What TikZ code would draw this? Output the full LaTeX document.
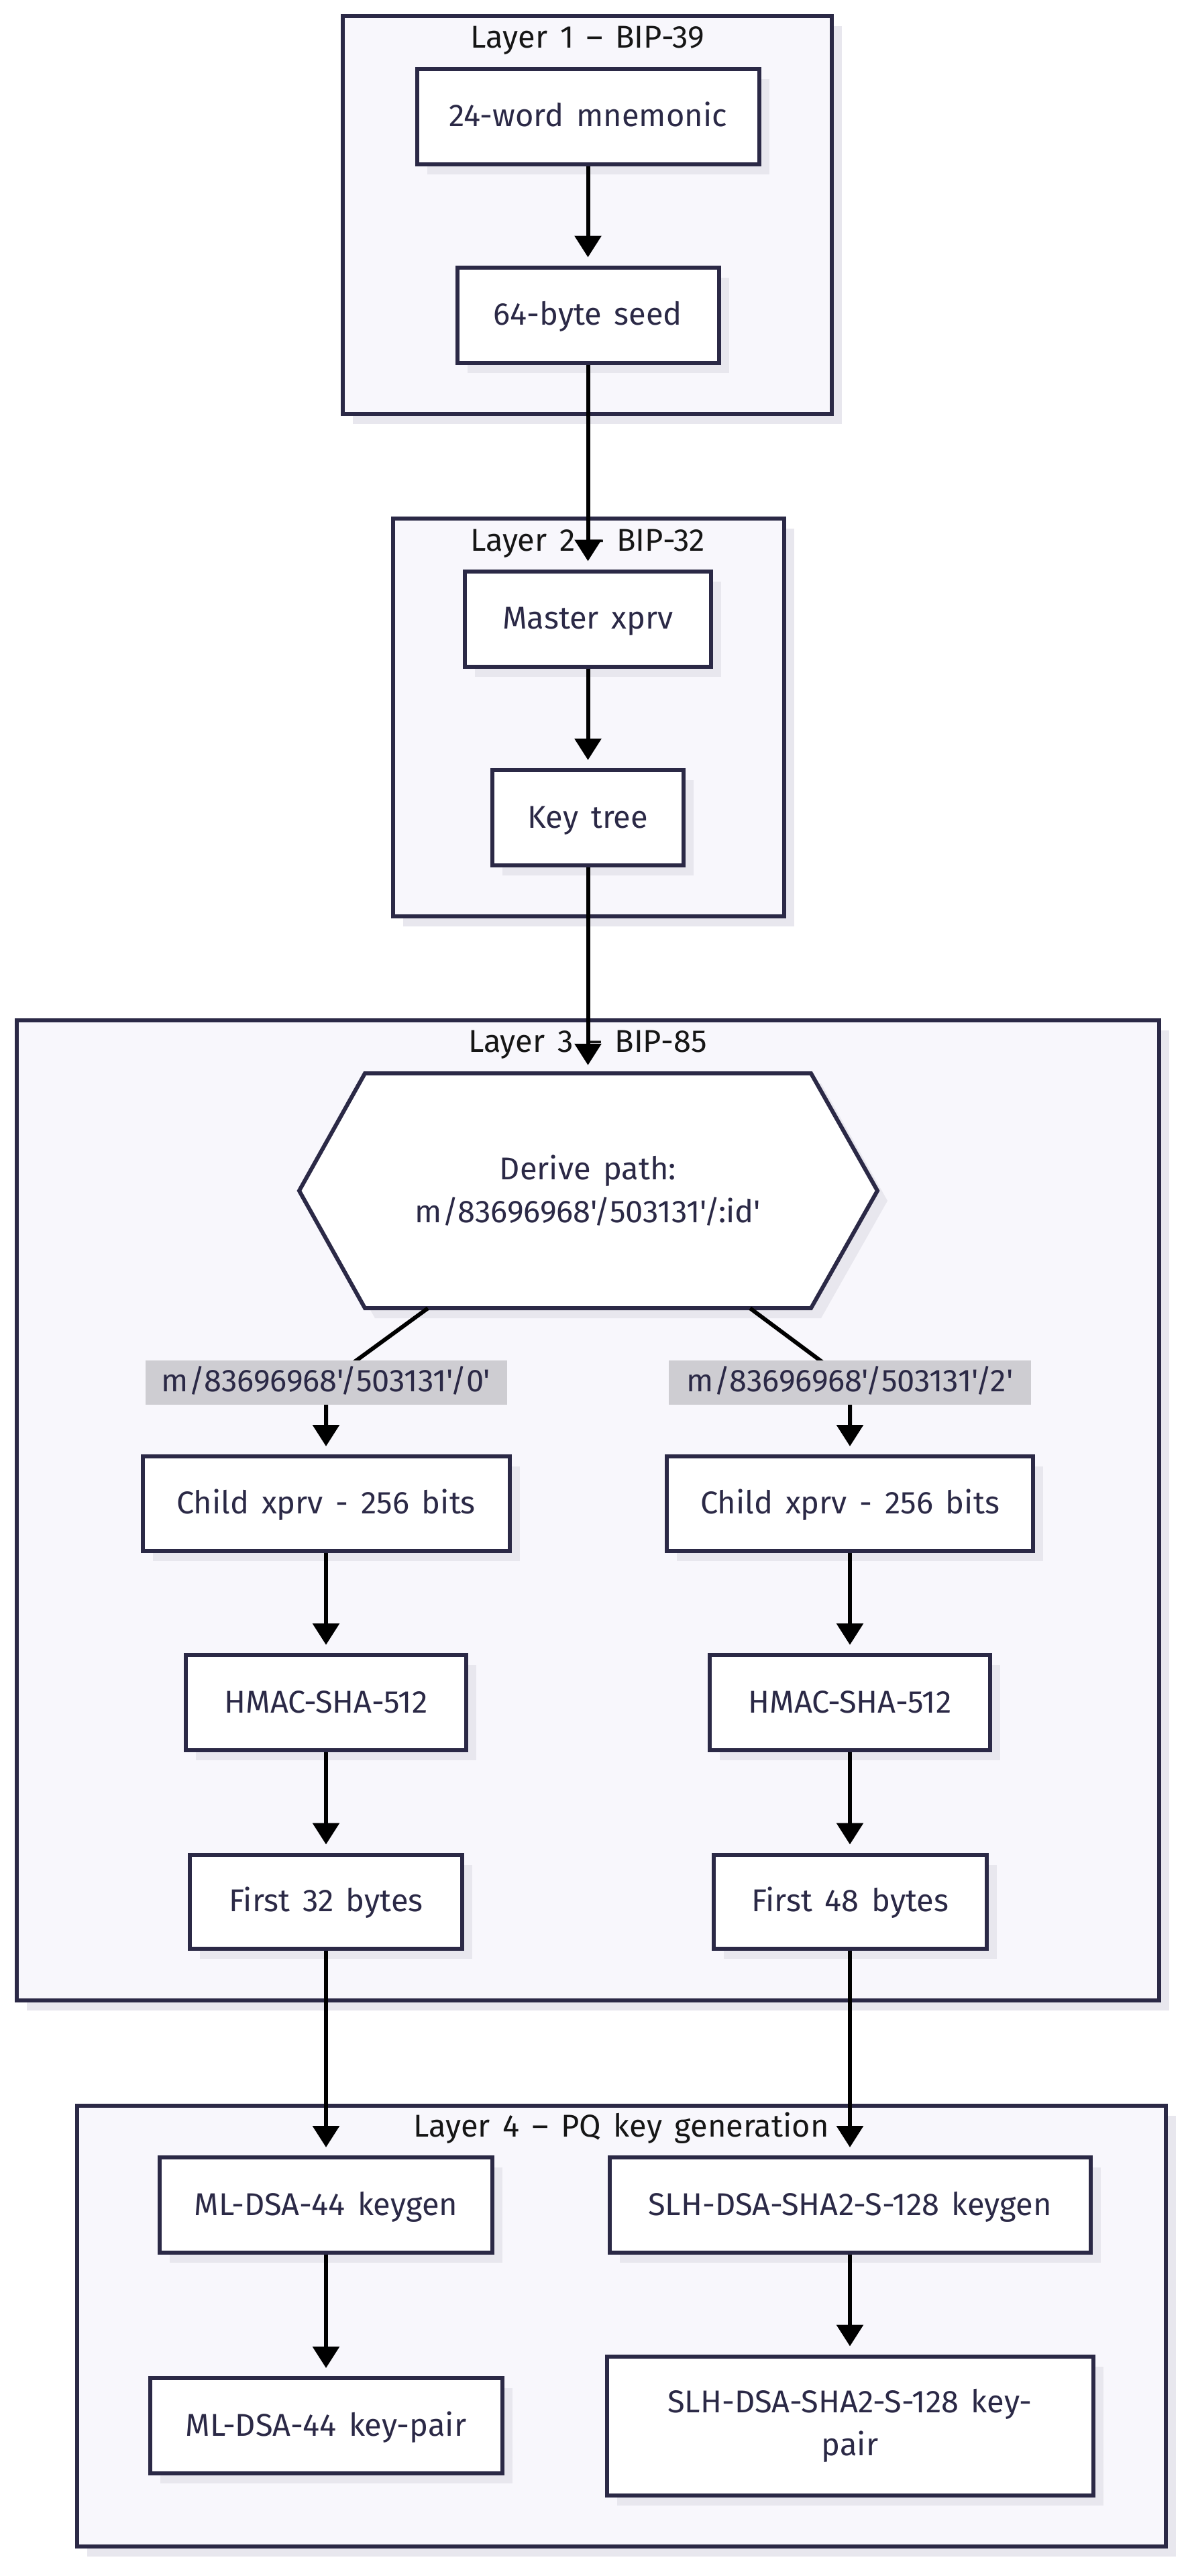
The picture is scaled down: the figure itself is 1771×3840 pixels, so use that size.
\documentclass[tikz,border=0pt]{standalone}
\usepackage{fontspec}
\setmainfont{Fira Sans}[Ligatures=TeXOff,WordSpace=1.5]
\usetikzlibrary{arrows.meta,shadows,calc}
\definecolor{navy}{HTML}{2B2946}
\definecolor{layerfill}{HTML}{F8F7FC}
\definecolor{shadowc}{HTML}{E8E7EE}
\definecolor{labelbg}{HTML}{CECDD2}
\definecolor{titlec}{HTML}{161616}
\newcommand\dfont{\fontsize{47}{64}\selectfont}
\begin{document}
\begin{tikzpicture}[x=1pt,y=-1pt,
 shadowed/.style={drop shadow={shadow xshift=15pt,shadow yshift=-15pt,fill=shadowc,opacity=1}},
 layerbox/.style={draw=navy,line width=6pt,fill=layerfill,shadowed,inner sep=0pt},
 titletext/.style={text=titlec,font=\dfont,inner sep=0pt,anchor=base},
 box/.style={draw=navy,line width=6pt,fill=white,shadowed,text=navy,font=\dfont,inner sep=0pt,minimum height=142pt,text height=38pt,text depth=8pt},
 boxtwo/.style={draw=navy,line width=6pt,fill=white,shadowed,text=navy,font=\dfont,inner sep=0pt,align=center},
 edgelab/.style={fill=labelbg,text=navy,font=\dfont,inner sep=0pt,minimum height=66pt,text height=34pt,text depth=8pt},
 arr/.style={draw=black,line width=6pt,-{Triangle[length=32pt,width=39pt]},shorten >=12pt},
]
\fill[white] (0,0) rectangle (1771,3840);
\useasboundingbox (0,0) rectangle (1771,3840);

% layers
\node[layerbox,minimum width=729pt,minimum height=592.5pt] (L1) at (875.5,320.75) {};
\node[titletext] (L1t) at (876,72) {Layer 1 – BIP-39};
\node[layerbox,minimum width=583pt,minimum height=593pt] (L2) at (877,1069.5) {};
\node[titletext] (L2t) at (876,821) {Layer 2 – BIP-32};
\node[layerbox,minimum width=1703pt,minimum height=1461pt] (L3) at (876.4,2251.5) {};
\node[titletext] (L3t) at (876,1568) {Layer 3 – BIP-85};
\node[layerbox,minimum width=1623pt,minimum height=657pt] (L4) at (926,3467.4) {};
\node[titletext] (L4t) at (926,3185) {Layer 4 – PQ key generation};

% layer 1
\node[box,minimum width=510pt] (mn) at (876.5,174) {24-word mnemonic};
\node[box,minimum width=390pt] (seed) at (876.5,469.5) {64-byte seed};
% layer 2
\node[box,minimum width=367pt] (master) at (876.5,922.5) {Master xprv};
\node[box,minimum width=285pt] (ktree) at (876.5,1219) {Key tree};
% layer 3
\fill[shadowc] (559,1615) -- (1224,1615) -- (1323,1790) -- (1224,1965) -- (559,1965) -- (461,1790) -- cycle;
\draw[navy,line width=6pt,fill=white,line join=miter] (544,1600) -- (1209,1600) -- (1308,1775) -- (1209,1950) -- (544,1950) -- (446,1775) -- cycle;
\node[draw=none,minimum width=665pt,minimum height=350pt,inner sep=0pt,align=center,text=navy,font=\dfont] (hex) at (876.5,1775) {Derive path:\\m/83696968'/503131'/:id'};
\node[box,minimum width=547pt,minimum height=141pt] (childL) at (486,2241.5) {Child xprv - 256 bits};
\node[box,minimum width=546pt,minimum height=141pt] (childR) at (1267,2241.5) {Child xprv - 256 bits};
\node[box,minimum width=418pt] (hmacL) at (486,2538) {HMAC-SHA-512};
\node[box,minimum width=418pt] (hmacR) at (1267,2538) {HMAC-SHA-512};
\node[box,minimum width=406pt,minimum height=140pt] (firstL) at (486,2834.5) {First 32 bytes};
\node[box,minimum width=407pt,minimum height=140pt] (firstR) at (1267,2834.5) {First 48 bytes};
% layer 4
\node[box,minimum width=496pt] (mlkg) at (486,3287) {ML-DSA-44 keygen};
\node[box,minimum width=717pt] (slhkg) at (1267,3287) {SLH-DSA-SHA2-S-128 keygen};
\node[box,minimum width=525pt] (mlkp) at (486,3616) {ML-DSA-44 key-pair};
\node[boxtwo,minimum width=725pt,minimum height=207pt] (slhkp) at (1267,3616) {SLH-DSA-SHA2-S-128 key-\\pair};

% connectors
\coordinate (h0) at ($(hex.south west)+(94,0)$);
\coordinate (h2) at ($(hex.south east)+(-91,0)$);
\coordinate (c0) at (486,2061);
\coordinate (c2) at (1267,2061);
\draw[arr] (mn) -- (seed);
\draw[arr] (seed) -- (master);
\draw[arr] (master) -- (ktree);
\draw[arr] (ktree) -- (hex.north);
\draw[arr] (h0) -- (c0) -- (childL);
\draw[arr] (h2) -- (c2) -- (childR);
\draw[arr] (childL) -- (hmacL);
\draw[arr] (childR) -- (hmacR);
\draw[arr] (hmacL) -- (firstL);
\draw[arr] (hmacR) -- (firstR);
\draw[arr] (firstL) -- (mlkg);
\draw[arr] (firstR) -- (slhkg);
\draw[arr] (mlkg) -- (mlkp);
\draw[arr] (slhkg) -- (slhkp);
% edge labels
\node[edgelab,minimum width=539pt] (lab0) at (c0) {m/83696968'/503131'/0'};
\node[edgelab,minimum width=540pt] (lab2) at (c2) {m/83696968'/503131'/2'};
\end{tikzpicture}
\end{document}
